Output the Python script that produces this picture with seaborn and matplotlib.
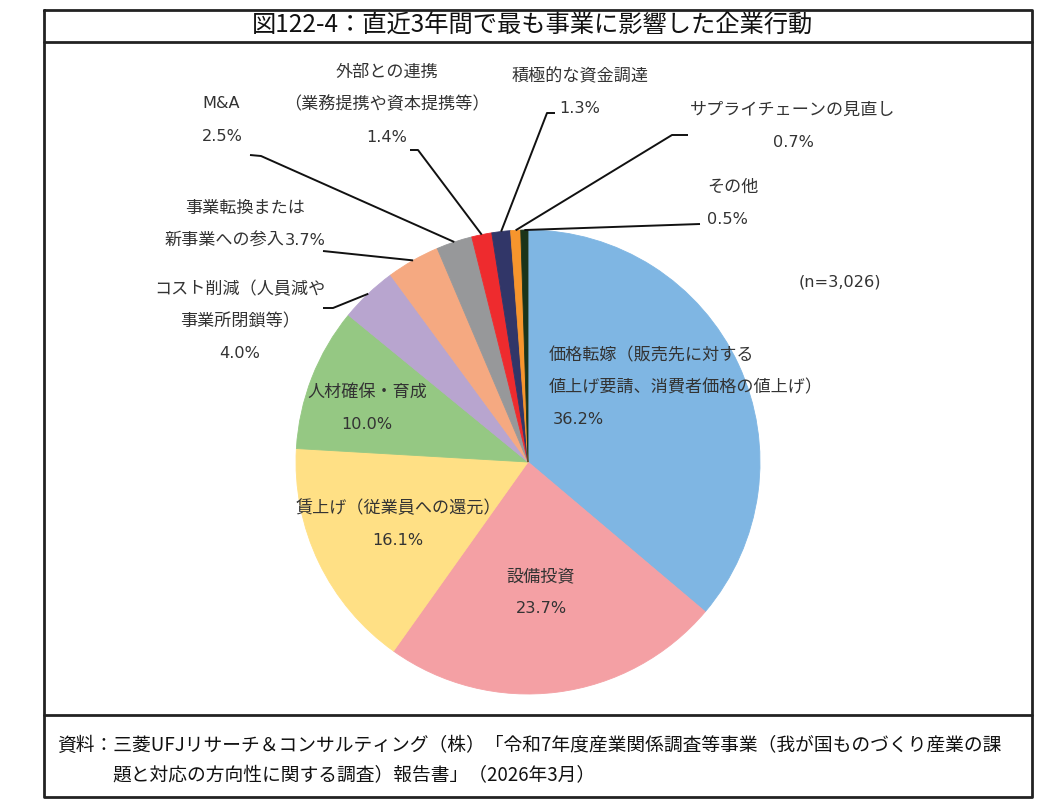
import matplotlib
matplotlib.use("Agg")
import matplotlib.pyplot as plt
import seaborn as sns
import numpy as np

# ---------------- data ----------------
categories = [
    "価格転嫁（販売先に対する\n値上げ要請、消費者価格の値上げ）",
    "設備投資",
    "賃上げ（従業員への還元）",
    "人材確保・育成",
    "コスト削減（人員減や\n事業所閉鎖等）",
    "事業転換または\n新事業への参入",
    "M&A",
    "外部との連携\n（業務提携や資本提携等）",
    "積極的な資金調達",
    "サプライチェーンの見直し",
    "その他",
]
values = [36.2, 23.7, 16.1, 10.0, 4.0, 3.7, 2.5, 1.4, 1.3, 0.7, 0.5]
colors = ["#7FB6E3", "#F4A0A4", "#FFE085", "#95C883", "#B8A5CF", "#F5A981",
          "#97989A", "#EE2B2E", "#313668", "#F7952D", "#1B3419"]
title = "図122-4：直近3年間で最も事業に影響した企業行動"
note_n = "(n=3,026)"
source_lines = [
    "資料：三菱UFJリサーチ＆コンサルティング（株）「令和7年度産業関係調査等事業（我が国ものづくり産業の課",
    "題と対応の方向性に関する調査）報告書」（2026年3月）",
]

# ---------------- layout (pixel coordinates, y from top) ----------------
W, H = 1060, 807
CX, CY, R = 528, 462, 232
# (x, y of first line, ha, percent inline, pct dx)
label_pos = [
    (549, 355, "left", False, 4),
    (541, 576, "center", False, 0),
    (398, 508, "center", False, 0),
    (367, 392, "center", False, 0),
    (240, 289, "center", False, 0),
    (245, 208, "center", True, 0),
    (202, 104, "left", False, 0),
    (387, 72, "center", False, 0),
    (580, 76, "center", False, 0),
    (793, 110, "center", False, 0),
    (707, 187, "left", False, 0),
]
line_gap = 32.5
leader_start = {
    4: [(323, 308), (333, 308)],
    5: [(323, 251)],
    6: [(250, 155), (261, 156)],
    7: [(410, 150), (418, 150)],
    8: [(555, 113), (547, 113)],
    9: [(688, 135), (672, 135)],
    10: [(700, 224)],
}

sns.set_theme(style="white")
plt.rcParams["font.family"] = ["Noto Sans CJK JP", "DejaVu Sans"]
LATIN_FIRST = ["DejaVu Sans", "Noto Sans CJK JP"]
CJK_FIRST = ["Noto Sans CJK JP", "DejaVu Sans"]

fig = plt.figure(figsize=(W / 100, H / 100), dpi=100)
ax = fig.add_axes([0, 0, 1, 1])

def Y(py):
    return H - py

def fam(t):
    # Latin-only strings and digit runs take a Verdana-like face (DejaVu)
    return LATIN_FIRST if all(ord(c) < 128 for c in t) else CJK_FIRST

wedges, _ = ax.pie(values, colors=colors, startangle=90, counterclock=False,
                   center=(CX, Y(CY)), radius=R,
                   wedgeprops=dict(linewidth=0.6))
for w, c in zip(wedges, colors):
    w.set_edgecolor(c)

ax.set_xlim(0, W)
ax.set_ylim(0, H)
ax.set_aspect("auto")
ax.axis("off")

txt_color = "#333333"
fs = 12.3
fs_latin = 11.6
for i, (cat, v) in enumerate(zip(categories, values)):
    x, y0, ha, inline, pdx = label_pos[i]
    lines = cat.split("\n")
    pct = f"{v:.1f}%"
    if inline:
        items = [(l, 0) for l in lines[:-1]]
        k = len(items)
        # mixed line: CJK text followed by percentage in Latin face
        yy = Y(y0 + k * line_gap)
        t1 = ax.text(x, yy, lines[-1], ha="left", va="center", fontsize=fs,
                     color=txt_color, family=CJK_FIRST)
        t2 = ax.text(x, yy, pct, ha="left", va="center", fontsize=fs_latin,
                     color=txt_color, family=LATIN_FIRST)
        fig.canvas.draw()
        r = fig.canvas.get_renderer()
        w1 = t1.get_window_extent(r).width
        w2 = t2.get_window_extent(r).width
        left = x - (w1 + w2) / 2
        t1.set_x(left)
        t2.set_x(left + w1)
    else:
        items = [(l, 0) for l in lines] + [(pct, pdx)]
    for k, (t, dx) in enumerate(items):
        f = fam(t)
        ax.text(x + dx, Y(y0 + k * line_gap), t, ha=ha, va="center",
                fontsize=fs_latin if f is LATIN_FIRST else fs,
                color=txt_color, family=f)

# leader lines: from label to wedge outer mid-point
for i, pts in leader_start.items():
    w = wedges[i]
    mid = np.deg2rad((w.theta1 + w.theta2) / 2)
    ex, ey = CX + R * np.cos(mid), Y(CY) + R * np.sin(mid)
    xs = [p[0] for p in pts] + [ex]
    ys = [Y(p[1]) for p in pts] + [ey]
    ax.plot(xs, ys, color="#111111", lw=1.4, solid_capstyle="butt")

ax.text(840, Y(282), note_n, ha="center", va="center", fontsize=fs_latin,
        color=txt_color, family=LATIN_FIRST)

# frame
L, Rt, T, B = 44, 1032, 10, 797
ax.plot([L, Rt, Rt, L, L], [Y(T), Y(T), Y(B), Y(B), Y(T)], color="#222222", lw=2)
ax.plot([L, Rt], [Y(42), Y(42)], color="#222222", lw=2)
ax.plot([L, Rt], [Y(715), Y(715)], color="#222222", lw=2)

ax.text(532, Y(26), title, ha="center", va="center", fontsize=17.5, color="#111111")
ax.text(57, Y(745), source_lines[0], ha="left", va="center", fontsize=13.5, color="#111111")
ax.text(112, Y(776), source_lines[1], ha="left", va="center", fontsize=13.5, color="#111111")

fig.savefig("out.png", dpi=100)
